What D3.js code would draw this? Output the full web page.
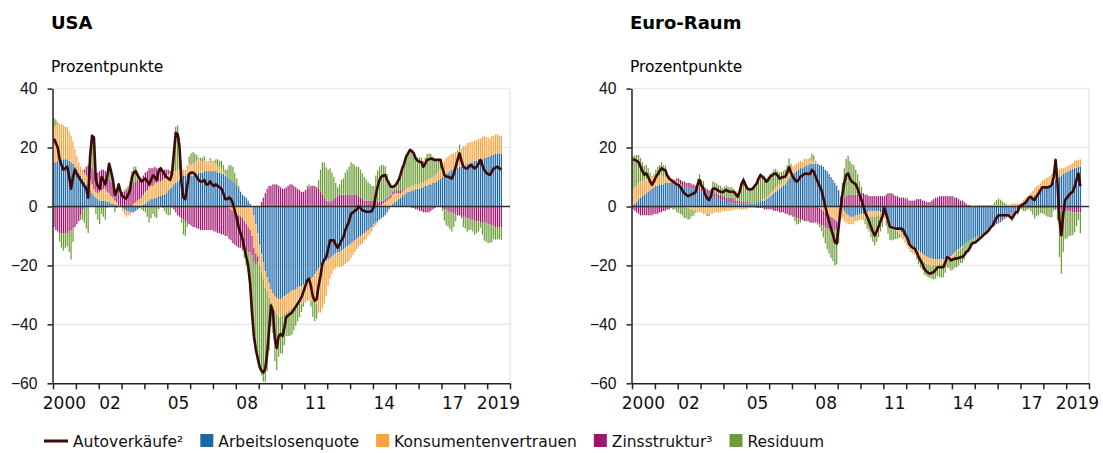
<!DOCTYPE html>
<html>
<head>
  <meta charset="utf-8">
  <title>Autoverkäufe – Zerlegung USA und Euro-Raum</title>
  <script src="https://cdnjs.cloudflare.com/ajax/libs/d3/7.8.5/d3.min.js"></script>
  <style>
    body { margin: 0; background: #fff; }
    svg { display: block; font-family: "DejaVu Sans", sans-serif; }
  </style>
</head>
<body>
<svg id="chart" width="1103" height="453"></svg>

<script>
  // monthly values, Jan 2000 - Aug 2019, in Prozentpunkte

  // USA
  var usaAuto = [
    23,21.5,20,16,14,12.5,13,13.5,10,6,10,12.5,
    11,10,9,8,7,6,3,17,24,23.5,9,7,
    6,10,9,7.5,10,14.5,12,9,4,5,7.5,5,
    3.5,3,2.7,4,5.5,10,11.5,12,10.5,9.5,8.5,9,
    9.5,8.5,7.5,9,10.5,10,9,12,13,12,11,10,
    9.5,9,11,18,25,24.5,20,8,3,2.5,7,11,
    11.5,11.5,11,10,9,8.5,8.5,9,7.5,7.5,8.5,7.5,
    7,7.5,7,6.5,6,4.5,2.5,2.5,3,2.5,1,-1.5,
    -4,-7,-9,-11,-14,-17,-20,-26,-36,-44,-48.5,-51.5,
    -54.5,-55.8,-56.4,-55,-50,-42,-33.6,-35.5,-45,-48,-44,-43.3,
    -44,-41,-37.6,-37,-36.5,-36,-35,-34,-33,-32,-30.8,-29,
    -27,-25,-24.5,-27,-30.5,-32,-31.5,-27,-23.5,-19.5,-18,-17.2,
    -14.5,-11.5,-11.5,-11.5,-13,-14,-13,-11.5,-10.4,-8,-6.5,-5,
    -2.5,-2,-1.5,-1,0,-0.5,-1.3,-1.5,-1.8,-1.8,-1.8,-1.5,
    0,4,6.7,9,10.1,10.5,10.7,9,7.8,6.7,6.7,7,
    7.8,9,10.7,13,14.6,16.9,18,19.2,18.8,18,16.3,15.5,
    15.2,15,13.5,14.5,15.8,16,16.3,16,15.8,15.8,15.8,15.8,
    13,10.7,10.2,10.1,9.8,9.5,11,13.5,16,18,15.5,13.5,
    13,12.9,13.5,14.1,13.5,12.9,13.5,14.5,15.8,14,12.4,11.5,
    11,10.7,11.8,12.9,13.2,13.5,12.9,12.6
  ];
  var usaArbeit = [
    15,15,15.5,16,16,16,16,16,15.5,15,14.5,13.5,
    12.5,11.5,10.5,9.5,8.5,7.5,6.5,5.5,4.5,3.5,3,2.5,
    2,2,2,2,1.5,1.5,1,1,0.5,0.5,0,0,
    -0.5,-1,-1.5,-1.5,-2,-2,-2,-1.5,-1,-0.5,0,0.5,
    1,1.5,2,2.5,2.5,3,3,3.5,3.5,4,4,4.5,
    5.5,6,6.5,7.5,8,8.5,9,10,10.5,10.5,11,11,
    10.5,10.5,11,11,11.5,11.5,11.5,12,12,12,12,12,
    12,12,11.5,11.5,11,11,10.5,10,9.5,9,8.5,8,
    7,6,5,4,3.5,3,2,1,0,-3,-6,-9,
    -13,-16,-19,-22,-24,-26,-28,-29.5,-30.5,-31,-31.5,-31.5,
    -31,-30.5,-30,-29.5,-29,-28.5,-28.5,-28,-27.5,-27,-27,-26.5,
    -26,-25.5,-25,-24.5,-24,-23,-22,-21,-20,-19.5,-19,-18.5,
    -18,-17.5,-17,-16.5,-16,-15.5,-15.5,-15,-14.5,-14,-13.5,-13,
    -12.5,-12,-11.5,-11,-10.5,-10,-9.5,-9,-8.5,-8,-7.5,-7,
    -6,-5.5,-5,-4.5,-4,-3.5,-3,-2,-1,0,1,1.5,
    2,2.5,3,3.5,4,4.5,5,5,5.5,5.5,6,6,
    6,6.5,6.5,7,7,7.5,7.5,8,8,8.5,9,9.5,
    10,10.5,11,11.5,12,12.5,12.5,13,13,13.5,13.5,14,
    14,14.5,14.5,15,15,15.5,15.5,16,16,16,16.5,16.5,
    17,17,17.5,17.5,18,18,18,18
  ];
  var usaKonsum = [
    12,12.5,12.5,12,12,11.5,11,11,10,9,7.5,6,
    4.5,3.5,3,3,3,3,3.5,3.5,3,2.5,2,2,
    3,3.5,4,4,3.5,3,2.5,2,1.5,1,0.5,0,
    -1,-1.5,-2,-1.5,-1,0,1,1.5,2,2.5,3,3.5,
    4,4,4.5,4.5,4.5,5,5,5,5,5,5.5,5.5,
    5.5,5,5,4.5,4,4,4,3.5,2,2,3,3.5,
    3.5,4,4,4.5,4.5,4,3.5,3.5,3.5,3.5,3.5,3,
    3,2.5,2,2,1.5,1,0.5,0,-0.5,-1,-1.5,-2,
    -2.5,-3,-3.5,-4,-5,-6,-7,-8,-10,-11,-10,-8,
    -7,-6.5,-6,-5.5,-5,-5,-4.5,-4.5,-5,-5.5,-6,-6,
    -6,-6,-6,-6,-6,-6,-6.5,-6.5,-6.5,-6,-6,-6,
    -6,-6.5,-7,-7.5,-8,-9,-11,-15,-16,-15,-14,-12,
    -9,-7,-6,-5,-5,-5,-5,-5.5,-5.5,-5.5,-5.5,-5.5,
    -5,-4.5,-4,-3.5,-3,-3,-3,-2.5,-2.5,-2,-2,-1.5,
    -1,-1,-0.5,0,0.5,1,1.5,2,2.5,3,3,3,
    2.5,2,1.5,1.5,1.5,1.5,1.5,1.5,1.5,1.5,1.5,1.5,
    1.5,1.5,1.5,1.5,2,2,2,2,2.5,2.5,3,3.5,
    4.5,5,5.5,5.5,5.5,5.5,5.5,5.5,5.5,5.5,6,6.5,
    6.5,7,7,7,7,7,7,7,7,7.5,7.5,7,
    6.5,6,6.5,6.5,6.5,6.5,6,6
  ];
  var usaZins = [
    -7,-8,-8.5,-9,-9,-9,-9,-9,-8.5,-8,-7.5,-7,
    -6,-5,-3,-1,1,3,4,5,5.5,6,6.5,7,
    7,7,6.5,6,5.5,5,5,4.5,4,4,4,4.5,
    5,5,5.5,6,6.5,7,7,7,7,6.5,6.5,6.5,
    6.5,6.5,6.5,6,6,5.5,5,4.5,4,3.5,3,2.5,
    1.5,1,0,-1,-2,-3,-3.5,-4,-4.5,-5,-5.5,-6,
    -6.5,-7,-7,-7.5,-7.5,-8,-8,-8,-8,-8,-8,-8,
    -8.5,-8.5,-9,-9,-9.5,-9.5,-10,-10,-10.5,-10.5,-11,-11,
    -11,-11,-10.5,-10,-9.5,-9,-8.5,-7.5,-6.5,-5,-3.5,-2,
    0,1.5,3,4.5,6,7,7,7.5,7.5,7.5,7,6.5,
    6,6,6.5,7,7.5,7.5,7,6.5,6,5.5,5,5,
    5.5,6,6.5,7,7,7,6.5,6,5,4,3,2,
    1.5,1.5,2,2.5,3,3.5,4,4,4,4,4,4,
    4,4,4,4,3.5,3,2.5,2,2,2,2,2,
    2,2,1.5,1.5,1.5,1,1,1,1,1,1,1,
    1,1,1,0.5,0.5,0,0,0,-0.5,-0.5,-1,-1,
    -1.5,-1.5,-2,-2,-2,-2,-1.5,-1,-0.5,0,0,0,
    -0.5,-1,-1,-1.5,-2,-2,-2.5,-2.5,-3,-3,-3.5,-3.5,
    -3.5,-4,-4,-4.5,-4.5,-5,-5,-5,-5.5,-5.5,-5.5,-5.5,
    -6,-6,-6.5,-6.5,-7,-7,-7,-7
  ];
  var usaResid = [
    3,2,0.5,-3,-5,-6,-5,-4.5,-7,-10,-4.5,0,
    0,0,-1.5,-3.5,-5.5,-7.5,-9,3,11,11.5,-2.5,-4.5,
    -6,-2.5,-3.5,-4.5,-0.5,5,3.5,1.5,-2,-0.5,3,0.5,
    0,0.5,0.7,1,2,5,5.5,5,2.5,1,-1,-1.5,
    -2,-3.5,-5.5,-4,-2.5,-3.5,-4,-1,0.5,-0.5,-1.5,-2.5,
    -3,-3,-0.5,7,15,15,10.5,-1.5,-5,-5,-1.5,2.5,
    4,4,3,2,0.5,1,1.5,1.5,0,0,1,0.5,
    0.5,1.5,2.5,2,3,2,1.5,2.5,4.5,5,5,3.5,
    2.5,1,0,-1,-3,-5,-6.5,-11.5,-19.5,-25,-29,-32.5,
    -34.5,-34.8,-34.4,-32,-27,-18,-8,-9,-17,-19,-13.5,-12.3,
    -13,-10.5,-8,-8.5,-9,-9,-7,-6,-5,-4.5,-2.8,-1.5,
    -0.5,1,1,-2,-5.5,-7,-5,3,7.5,11,12,11.3,
    11,11.5,9.5,7.5,5,3,3.5,5,5.5,7.5,8.5,9.5,
    11,10.5,10,9.5,10,9.5,8.7,8,7.2,6.2,5.7,5,
    5,8.5,10.7,12,12.1,12,11.2,8,5.3,2.7,1.7,1.5,
    2.3,3.5,5.2,7.5,8.6,10.9,11.5,12.7,12.3,11.5,9.8,9,
    9.2,8.5,7.5,8,8.8,8.5,8.3,7,5.8,4.8,3.8,2.8,
    -1,-3.8,-5.3,-5.4,-5.7,-6.5,-4.5,-2.5,0.5,2,-0.5,-3.5,
    -4,-4.6,-4,-3.4,-4,-4.6,-4,-3.5,-1.7,-4,-6.1,-6.5,
    -6.5,-6.3,-5.7,-4.6,-4.3,-4,-4.1,-4.4
  ];

  // Euro-Raum
  var euAuto = [
    16,15.8,15.5,15,13.5,12,10.8,11.2,10,8.5,7.3,8.5,
    10,11,12,13,12.5,12.4,10.5,9.5,9,8.4,8,7.5,
    7.3,6.5,5.5,4.5,4,3.5,3.8,4.2,4.4,5,7.5,9,
    7,6.1,4,2.8,2.2,3.5,6,6.1,5.8,5.3,5,4.8,
    5.2,5.6,5.2,5,5,5,4.2,3.3,5,7.5,9,7.5,
    6.1,5.8,5.8,6.1,7,7.8,9.5,10.7,10,9.5,8.4,9,
    10.1,10.5,11,11.2,10.5,9.5,9.8,10,10.1,11.5,13.3,11.5,
    10.1,9,8.4,9,10.1,10.5,11,11.2,11,11,12.4,11.8,
    10,8.4,7,5.6,3,0,-2.5,-5,-7.5,-9.5,-12,-12.6,
    -7,-1,4,8,10.7,11.2,9.5,8.4,8,7.5,6,4,
    2.2,0,-2,-3.5,-5,-6.9,-8.5,-9.8,-8.5,-6.9,-5,-3.5,
    -0.5,-2.5,-4.7,-6.9,-7,-7.3,-7.5,-7.5,-7.5,-7.5,-8,-9.5,
    -10.5,-12.6,-13.5,-14,-14.3,-15.5,-17,-18.3,-19.5,-21.1,-22,-22.5,
    -22.8,-22.5,-22.3,-21.5,-20.6,-20.6,-20.6,-20.6,-19,-17.2,-17.5,-18.3,
    -18,-17.7,-17.7,-17.5,-17.2,-17.2,-16.5,-15.5,-15,-14,-12.6,-12.3,
    -12.1,-11.5,-11,-10.4,-9.8,-9.2,-8.7,-8,-7,-6.4,-5,-3.8,
    -3,-3,-3,-3,-3,-3,-3.5,-4.1,-3,-2,-1.8,0,
    0.4,0.8,1.2,2,3,3.3,2.5,2.2,3.5,4.4,5.5,6.5,
    6.5,6.5,6.5,6.8,7.3,10.1,15.8,7.8,-4.7,-9.8,-2.4,2.2,
    3,3.9,4.5,5,6.7,9,11.2,6.9
  ];
  var euArbeit = [
    0.5,1,1.5,2.5,3,3.5,4,4.5,5,5.5,6,6.5,
    7,7,7.5,7.5,7.5,8,8,8,8,8,7.5,7.5,
    7.5,7,7,7,6.5,6.5,6.5,6,6,6,5.5,5.5,
    5,5,4.5,4.5,4,4,3.5,3,3,2.5,2.5,2,
    2,1.5,1.5,1.5,1.5,1,1,1,1,1,1,1,
    1,1,1,1,1,1.5,1.5,1.5,2,2,2.5,3,
    3.5,4,4.5,5,5.5,6,6.5,7,7.5,8.5,9.5,10.5,
    11,11.5,12,12.5,13,13,13.5,14,14,14.5,14.5,14.5,
    14.5,14.5,14,14,13.5,12.5,12,11,10,9,8,7,
    5.5,2.5,0,-1.5,-2.5,-3,-3.5,-3.5,-3.5,-3,-3,-2.5,
    -2.5,-2.5,-2,-2,-1.5,-1.5,-1.5,-1.5,-1.5,-1.5,-2,-2,
    -3,-4,-5,-5.8,-6.3,-6.8,-7.2,-7.6,-8,-8.8,-9.6,-10.5,
    -11.5,-12.5,-13,-13.5,-14,-14.5,-15,-15.5,-16,-16.5,-17,-17.2,
    -17.5,-17.7,-17.8,-18,-18,-18,-18,-18,-17.8,-17.5,-17,-16.8,
    -16.2,-15.6,-15,-14.5,-14,-13.5,-13,-12.5,-12,-11.5,-11,-10.8,
    -10.5,-10.2,-9.8,-9.4,-9,-8.5,-8,-7.5,-7,-6.5,-6,-5.5,
    -5.2,-4.8,-4.3,-3.8,-3.3,-3,-2.5,-2,-1.5,-1,-0.5,0,
    0.3,0.8,1.3,1.8,2.3,2.8,3.3,3.8,4.3,4.8,5.3,5.8,
    6.2,6.6,7,7.4,8,8.5,9,9.5,10,10.5,11,11.3,
    11.7,12,12.4,12.7,13,13.2,13.4,13.5
  ];
  var euKonsum = [
    5.5,5.5,5.5,5.5,5.5,5,5,5,4.5,4.5,4,4,
    3.5,3.5,3,3,2.5,2.5,2,2,1.5,1.5,1,1,
    0.5,0.5,0,0,-0.5,-0.5,-1,-1,-1.5,-1.5,-2,-2,
    -2,-2.5,-2.5,-2.5,-2.5,-2.5,-2.5,-2,-2,-2,-2,-1.5,
    -1.5,-1.5,-1.5,-1.5,-1.5,-1,-1,-1,-1,-1,-1,-1,
    -1,-0.5,-0.5,-0.5,-0.5,0,0,0,0.5,0.5,0.5,0.5,
    1,1,1,1.5,1.5,1.5,1.5,2,2,2,2,2,
    2.5,2.5,2.5,2.5,2.5,2,2,2,1.5,1.5,1,1,
    0.5,0,-0.5,-1,-1.5,-2,-2.5,-3,-3.5,-4,-4.5,-5,
    -5,-4.5,-4,-3.5,-3,-3,-2.5,-2.5,-2.5,-2,-2,-2,
    -2,-2,-2,-2,-2,-2,-2,-2,-1.5,-1.5,-1.5,-1.5,
    -1,-1,-1,-1,-1,-1,-1,-1,-1.5,-1.5,-1.5,-2,
    -2,-2,-2,-2.5,-2.5,-2.5,-2.5,-2.5,-2.5,-2.5,-2.5,-2.5,
    -2.5,-2.5,-2,-2,-2,-1.5,-1.5,-1.5,-1,-1,-1,-1,
    -1,-1,-0.5,-0.5,-0.5,-0.5,0,0,0,0,0,0,
    0.5,0.5,0.5,0.5,0.5,0.5,0.5,0.5,0.5,0.5,0.5,0.5,
    0.5,0.5,0.5,0.5,0.5,0.5,0.5,1,1,1,1,1,
    1,1.5,1.5,1.5,1.5,2,2,2.5,2.5,2.5,2.5,3,
    3,3,3,3,3,3,3,3,2.5,2.5,2,2,
    2,2,2,2,2.5,2.5,2.5,2.5
  ];
  var euZins = [
    -1,-1.5,-2,-2.5,-3,-3,-3,-3,-3,-3,-3,-2.5,
    -2.5,-2.5,-2,-2,-1.5,-1.5,-1,-1,-0.5,0,0.5,1,
    1.5,1.5,1.5,1.5,1.5,1.5,1.5,1.5,1.5,1,1,1,
    1,1,1,1.5,1.5,1.5,1.5,1.5,1.5,1.5,1.5,1.5,
    1.5,1.5,1.5,1.5,1.5,1.5,1,1,1,0.5,0.5,0.5,
    0.5,0,0,0,0,-0.5,-0.5,-0.5,-0.5,-1,-1,-1,
    -1,-1,-1.5,-1.5,-1.5,-2,-2,-2,-2.5,-2.5,-3,-3,
    -3.5,-3.5,-4,-4,-4.5,-4.5,-5,-5,-5,-5.5,-5.5,-5.5,
    -5.5,-5.5,-5.5,-5.5,-5,-5,-5,-4.5,-4.5,-4,-3.5,-2.5,
    -1,0.5,2,3,3.5,4,4,4,4,4,4,4.5,
    4.5,4.5,4,4,3.5,3.5,3.5,3.5,3.5,3.5,3.5,3.5,
    3.5,4,4.5,4.5,4.5,4,3.5,3.5,3,3,3,2.5,
    2.5,2,2,2,2,2.5,2.5,2.5,2,2,1.5,1.5,
    1.5,2,2.5,3,3,3.5,3.5,3.5,3.5,3.5,3.5,3.5,
    3.5,3,3,2.5,2,2,1.5,1,0.5,0.5,0,0,
    0,0,-0.5,-0.5,-0.5,-0.5,-0.5,-0.5,-0.5,-0.5,-0.5,-0.5,
    -0.5,-0.5,-0.5,-0.5,-0.5,-0.5,-0.5,-0.5,-0.5,-0.5,-0.5,-0.5,
    -0.5,-0.5,-0.5,-0.5,-0.5,-0.5,-0.5,-0.5,-0.5,-0.5,-0.5,-0.5,
    -0.5,-0.5,-0.5,-0.5,-0.5,-0.5,-1,-1,-1,-1,-1,-1.5,
    -1.5,-1.5,-1.5,-2,-2,-2,-2,-2
  ];
  var euResid = [
    11,10.8,10.5,9.5,8,6.5,4.8,4.7,3.5,1.5,0.3,0.5,
    2,3,3.5,4.5,4,3.4,1.5,0.5,0,-1.1,-1,-2,
    -2.2,-2.5,-3,-4,-3.5,-4,-3.2,-2.3,-1.6,-0.5,3,4.5,
    3,2.6,1,-0.7,-0.8,0.5,3.5,3.6,3.3,3.3,3,2.8,
    3.2,4.1,3.7,3.5,3.5,3.5,3.2,2.3,4,7,8.5,7,
    5.6,5.3,5.3,5.6,6.5,6.8,8.5,9.7,8,8,6.4,6.5,
    6.6,6.5,7,6.2,5,4,3.8,3,3.1,3.5,4.8,2,
    0.1,-1.5,-2.1,-2,-0.9,0,0.5,0.2,0.5,0.5,2.4,1.8,
    0.5,-0.6,-1,-1.9,-4,-5.5,-7,-8.5,-9.5,-10.5,-12,-12.1,
    -6.5,0.5,6,10,12.7,13.2,11.5,10.4,10,8.5,7,4,
    2.2,0,-2,-3.5,-5,-6.9,-8.5,-9.8,-9,-7.4,-5,-3.5,
    0,-1.5,-3.2,-4.6,-4.2,-3.5,-2.8,-2.4,-1,-0.2,0.1,0.5,
    0.5,-0.1,-0.5,0,0.2,-1,-2,-2.8,-3,-4.1,-4,-4.3,
    -4.3,-4.3,-5,-4.5,-3.6,-4.6,-4.6,-4.6,-3.7,-2.2,-3,-4,
    -4.3,-4.1,-5.2,-5,-4.7,-5.2,-5,-4,-3.5,-3,-1.6,-1.5,
    -2.1,-1.8,-1.2,-1,-0.8,-0.7,-0.7,-0.5,0,0.1,1,1.7,
    2.2,1.8,1.3,0.8,0.3,0,-1,-2.6,-2,-1.5,-1.8,-0.5,
    -0.4,-1,-1.1,-0.8,-0.3,-1,-2.3,-3.6,-2.8,-2.4,-1.8,-1.8,
    -2.2,-2.6,-3,-3.1,-3.2,-0.9,2,-3.7,-16.2,-21.8,-14.4,-9.6,
    -9.2,-8.6,-8.4,-7.7,-6.8,-4.7,-2.7,-7.1
  ];

  var yTicks = [-60, -40, -20, 0, 20, 40];
  var xTickYears = d3.range(2000, 2021);
  var xLabelYears = [2000, 2002, 2005, 2008, 2011, 2014, 2017, 2019];

  var keys = ['arbeit', 'konsum', 'zins', 'resid'];
  var colors = { arbeit: '#1b68a8', konsum: '#fba23c', zins: '#a0166f', resid: '#6b9c36' };
  var lineColor = '#3b0b0b';

  var svg = d3.select('#chart');

  function yearLabel(yr) {
    return (yr === 2000 || yr === 2019) ? String(yr) : String(yr).slice(2);
  }

  function drawPanel(left, title, autos, arbeit, konsum, zins, resid) {
    var width = 457;
    var x = d3.scaleTime()
      .domain([new Date(2000, 0, 1), new Date(2020, 0, 1)])
      .range([left, left + width]);
    var y = d3.scaleLinear().domain([-60, 40]).range([383.3, 88.6]);

    var rows = autos.map(function (v, i) {
      return {
        date: new Date(2000, i, 1),
        auto: v,
        arbeit: arbeit[i] || 0,
        konsum: konsum[i] || 0,
        zins: zins[i] || 0,
        resid: resid[i] || 0
      };
    });

    var g = svg.append('g');

    g.append('text')
      .attr('x', left - 2).attr('y', 29)
      .style('font-size', '18px').style('font-weight', 'bold')
      .text(title);
    g.append('text')
      .attr('x', left - 2).attr('y', 72)
      .style('font-size', '15.5px')
      .text('Prozentpunkte');

    // grid + right frame
    g.selectAll('.grid')
      .data([40, 20, -20, -40])
      .enter().append('line')
      .attr('x1', left).attr('x2', left + width)
      .attr('y1', function (d) { return y(d); })
      .attr('y2', function (d) { return y(d); })
      .attr('stroke', '#e9e9e9').attr('stroke-width', 1.5);
    g.append('line')
      .attr('x1', left + width).attr('x2', left + width)
      .attr('y1', y(40)).attr('y2', y(-60))
      .attr('stroke', '#e9e9e9').attr('stroke-width', 1.5);

    // stacked bars
    var series = d3.stack().keys(keys).offset(d3.stackOffsetDiverging)(rows);
    g.selectAll('.layer')
      .data(series)
      .enter().append('g')
      .attr('fill', function (d) { return colors[d.key]; })
      .selectAll('rect')
      .data(function (d) { return d; })
      .enter().append('rect')
      .attr('x', function (d) { return x(d.data.date) + 0.35; })
      .attr('width', 1.2)
      .attr('y', function (d) { return y(Math.max(d[0], d[1])); })
      .attr('height', function (d) { return Math.abs(y(d[0]) - y(d[1])); });

    // zero line
    g.append('line')
      .attr('x1', left).attr('x2', left + width)
      .attr('y1', y(0)).attr('y2', y(0))
      .attr('stroke', '#333').attr('stroke-width', 1.5);

    // car sales line
    var line = d3.line()
      .x(function (d) { return x(d3.timeDay.offset(d.date, 15)); })
      .y(function (d) { return y(d.auto); });
    g.append('path')
      .datum(rows)
      .attr('d', line)
      .attr('fill', 'none')
      .attr('stroke', lineColor)
      .attr('stroke-width', 2.6)
      .attr('stroke-linejoin', 'round');

    // axes
    var yAxis = g.append('g')
      .attr('transform', 'translate(' + (left - 0.5) + ',0)')
      .call(d3.axisLeft(y).tickValues(yTicks).tickSize(5).tickSizeOuter(0).tickPadding(10));
    yAxis.selectAll('text').style('font-size', '15.7px').attr('fill', '#111');

    var xAxis = g.append('g')
      .attr('transform', 'translate(0,' + y(-60) + ')')
      .call(d3.axisBottom(x)
        .tickValues(xTickYears.map(function (yr) { return new Date(yr, 0, 1); }))
        .tickSize(6).tickSizeOuter(0).tickFormat(''));
    xAxis.select('.domain').attr('transform', 'translate(-0.5,0)');

    g.selectAll('.xlab')
      .data(xLabelYears)
      .enter().append('text')
      .attr('x', function (yr) { return x(new Date(yr, 6, 1)); })
      .attr('y', 409)
      .attr('text-anchor', 'middle')
      .style('font-size', '17px')
      .attr('fill', '#111')
      .text(yearLabel);

    g.selectAll('.domain, .tick line').attr('stroke', '#222').attr('stroke-width', 1.5);
  }

  drawPanel(53, 'USA', usaAuto, usaArbeit, usaKonsum, usaZins, usaResid);
  drawPanel(632, 'Euro-Raum', euAuto, euArbeit, euKonsum, euZins, euResid);

  // legend
  var legendItems = [
    { label: 'Autoverkäufe²', type: 'line', color: lineColor },
    { label: 'Arbeitslosenquote', type: 'box', color: colors.arbeit },
    { label: 'Konsumentenvertrauen', type: 'box', color: colors.konsum },
    { label: 'Zinsstruktur³', type: 'box', color: colors.zins },
    { label: 'Residuum', type: 'box', color: colors.resid }
  ];
  var legend = svg.append('g').style('font-size', '15.5px');
  var lx = 44;
  legendItems.forEach(function (item) {
    var symW;
    if (item.type === 'line') {
      legend.append('line')
        .attr('x1', lx).attr('x2', lx + 24)
        .attr('y1', 441).attr('y2', 441)
        .attr('stroke', item.color).attr('stroke-width', 3);
      symW = 24;
    } else {
      legend.append('rect')
        .attr('x', lx).attr('y', 434)
        .attr('width', 13).attr('height', 13)
        .attr('fill', item.color);
      symW = 13;
    }
    var t = legend.append('text')
      .attr('x', lx + symW + 5).attr('y', 447)
      .attr('fill', '#111')
      .text(item.label);
    lx += symW + 5 + t.node().getComputedTextLength() + 17;
  });
</script>
</body>
</html>
